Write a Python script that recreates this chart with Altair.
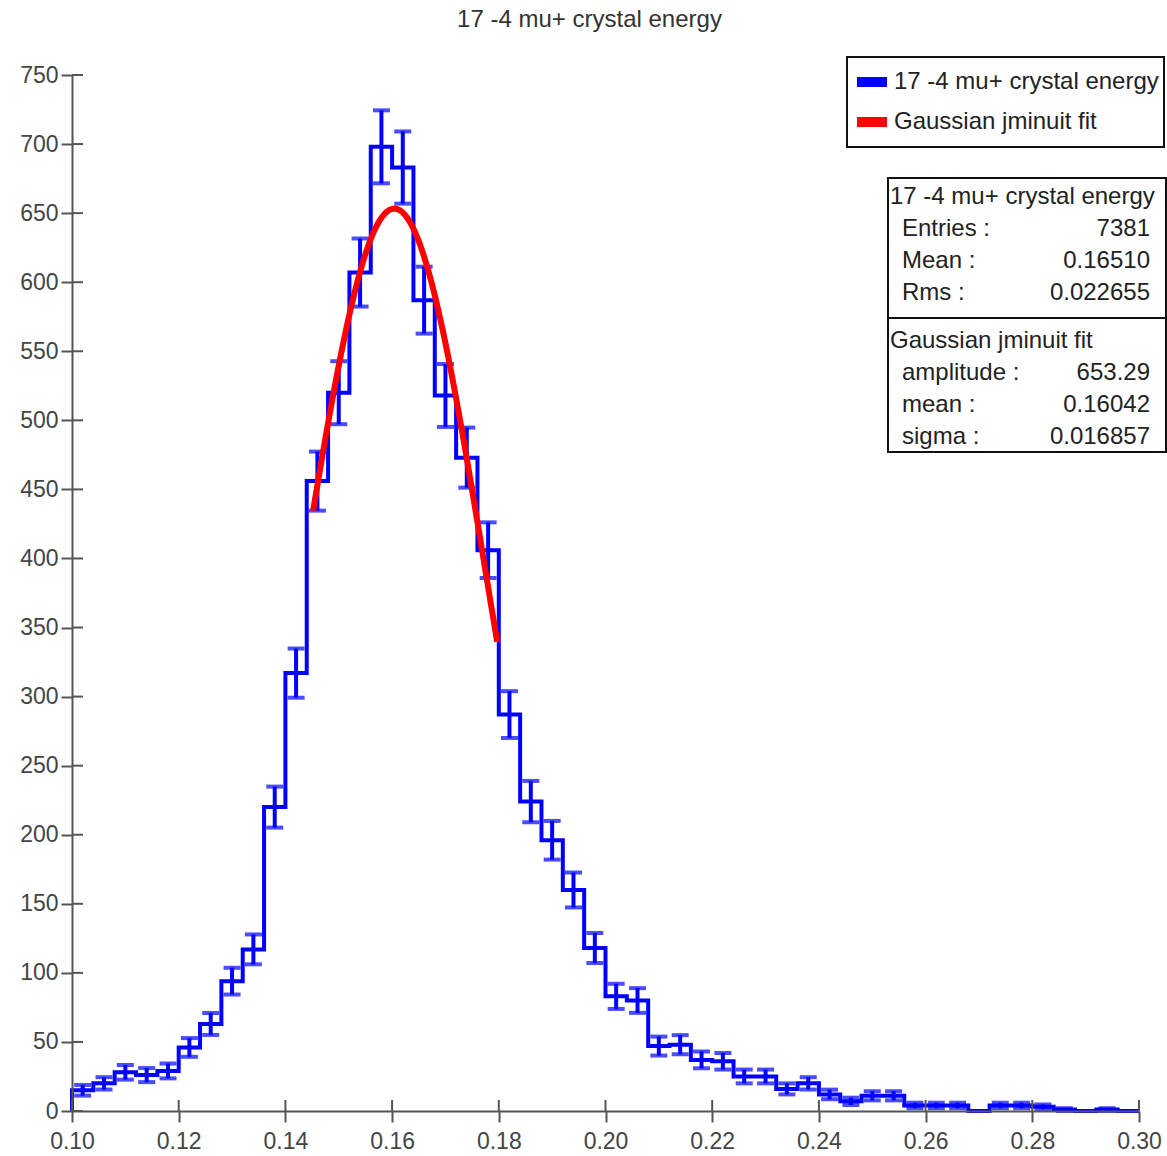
import altair as alt
import numpy as np
import pandas as pd

# ---------------- data ----------------
TITLE = "17 -4 mu+ crystal energy"
FIT_NAME = "Gaussian jminuit fit"

bin_lo = 0.10
bin_width = 0.004
counts = [15, 20, 28, 26, 29, 46, 63, 94, 117, 220,
          317, 456, 520, 607, 698, 683, 587, 518, 473, 406,
          287, 224, 196, 160, 118, 83, 80, 47, 48, 37,
          36, 25, 25, 16, 20, 12, 7, 11, 11, 4,
          4, 4, 0, 4, 4, 3, 1, 0, 1, 0]

fit_amplitude = 653.29
fit_mean = 0.16042
fit_sigma = 0.016857
fit_range = [0.1452, 0.1797]

x_ticks = [0.10, 0.12, 0.14, 0.16, 0.18, 0.20, 0.22, 0.24, 0.26, 0.28, 0.30]
y_ticks = [0, 50, 100, 150, 200, 250, 300, 350, 400, 450, 500, 550, 600, 650, 700, 750]

stat_header = [TITLE, FIT_NAME]
stat_labels = ["Entries :", "Mean :", "Rms :", "amplitude :", "mean :", "sigma :"]
stat_values = ["7381", "0.16510", "0.022655", "653.29", "0.16042", "0.016857"]

# ---------------- tables ----------------
n = len(counts)
edges = [bin_lo + i * bin_width for i in range(n + 1)]
step_x = [edges[0]] + edges[:n] + [edges[n]]
step_y = [0] + counts + [0]
df_step = pd.DataFrame({"x": step_x, "y": step_y, "series": TITLE})

df_bins = pd.DataFrame({
    "c": [edges[i] + bin_width / 2 for i in range(n)],
    "n": counts,
})
df_bins = df_bins[df_bins["n"] > 0]

fx = np.linspace(fit_range[0], fit_range[1], 150)
fy = fit_amplitude * np.exp(-0.5 * ((fx - fit_mean) / fit_sigma) ** 2)
df_fit = pd.DataFrame({"x": fx, "y": fy, "series": FIT_NAME})

FONT = "Liberation Sans"
TFS = 24
W, H = 1067, 1036
AX = "#555555"

xscale = alt.Scale(domain=[0.10, 0.30], nice=False, zero=False)
yscale = alt.Scale(domain=[0, 750], nice=False)
color = alt.Color(
    "series:N",
    scale=alt.Scale(domain=[TITLE, FIT_NAME], range=["#0000ff", "#ff0000"]),
    legend=alt.Legend(
        title=None, orient="none", legendX=775, legendY=-18,
        symbolType="stroke", symbolSize=900, symbolStrokeWidth=10,
        labelFontSize=TFS, labelFont=FONT, labelColor="#222222",
        labelLimit=500, padding=5, rowPadding=0, labelOffset=2,
        strokeColor="#111111", fillColor="white",
    ),
)

x_enc = alt.X("x:Q", scale=xscale,
              axis=alt.Axis(values=x_ticks, format=".2f", title=None, grid=False,
                            tickSize=11, tickWidth=2, tickColor=AX, domainColor=AX,
                            domainWidth=2, labelFontSize=23, labelFont=FONT,
                            labelColor="#444444", labelPadding=8, zindex=1,
                            labelFlush=False))
y_enc = alt.Y("y:Q", scale=yscale,
              axis=alt.Axis(values=y_ticks, title=None, grid=False,
                            tickSize=11, tickWidth=2, tickColor=AX, domainColor=AX,
                            domainWidth=2, labelFontSize=23, labelFont=FONT,
                            labelColor="#444444", labelPadding=3, zindex=1,
                            labelFlush=False))

step = alt.Chart(df_step).mark_line(interpolate="step-after", strokeWidth=4).encode(
    x=x_enc, y=y_enc, color=color)

err_base = alt.Chart(df_bins).transform_calculate(
    lo="max(0, datum.n - sqrt(datum.n))", hi="datum.n + sqrt(datum.n)")
err = err_base.mark_rule(color="#0000ff", strokeWidth=4).encode(
    x=alt.X("c:Q", scale=xscale), y=alt.Y("lo:Q", scale=yscale), y2="hi:Q")
cap_hi = err_base.mark_tick(color="#0000ff", orient="horizontal", size=17, thickness=4).encode(
    x=alt.X("c:Q", scale=xscale), y=alt.Y("hi:Q", scale=yscale))
cap_lo = err_base.mark_tick(color="#0000ff", orient="horizontal", size=17, thickness=4).encode(
    x=alt.X("c:Q", scale=xscale), y=alt.Y("lo:Q", scale=yscale))

fit = alt.Chart(df_fit).mark_line(strokeWidth=6, strokeCap="butt").encode(
    x=alt.X("x:Q", scale=xscale), y=alt.Y("y:Q", scale=yscale), color=color)

# inward halves of crossing tick marks
in_x = alt.Chart(pd.DataFrame({"t": x_ticks})).mark_rule(color=AX, strokeWidth=2).encode(
    x=alt.X("t:Q", scale=xscale), y=alt.value(H), y2=alt.value(H - 11))
in_y = alt.Chart(pd.DataFrame({"t": y_ticks})).mark_rule(color=AX, strokeWidth=2).encode(
    y=alt.Y("t:Q", scale=yscale), x=alt.value(0), x2=alt.value(11))

# statistics box
BX0, BX1, BY0, BY1, BDIV = 816, 1094, 103, 377, 243
box = alt.Chart(pd.DataFrame({"k": [0]})).mark_rect(
    fill="white", stroke="#111111", strokeWidth=2).encode(
    x=alt.value(BX0), x2=alt.value(BX1), y=alt.value(BY0), y2=alt.value(BY1))
div = alt.Chart(pd.DataFrame({"k": [0]})).mark_rule(color="#111111", strokeWidth=2).encode(
    x=alt.value(BX0), x2=alt.value(BX1), y=alt.value(BDIV))

df_head = pd.DataFrame({"t": stat_header, "row": [0, 4]})
df_stat = pd.DataFrame({"t": stat_labels, "v": stat_values, "row": [1, 2, 3, 5, 6, 7]})

def row_y(base):
    return base.transform_calculate(
        py=f"{BY0 + 19} + datum.row * 32 + (datum.row >= 4 ? 16 : 0)")

head = row_y(alt.Chart(df_head)).mark_text(
    align="left", baseline="middle", fontSize=TFS, font=FONT, color="#222222").encode(
    x=alt.value(BX0 + 2), y=alt.Y("py:Q", scale=None), text="t:N")
lab = row_y(alt.Chart(df_stat)).mark_text(
    align="left", baseline="middle", fontSize=TFS, font=FONT, color="#222222").encode(
    x=alt.value(BX0 + 14), y=alt.Y("py:Q", scale=None), text="t:N")
val = row_y(alt.Chart(df_stat)).mark_text(
    align="right", baseline="middle", fontSize=TFS, font=FONT, color="#222222").encode(
    x=alt.value(BX1 - 16), y=alt.Y("py:Q", scale=None), text="v:N")

chart = alt.layer(
    step, err, cap_hi, cap_lo, fit, in_x, in_y, box, div, head, lab, val
).properties(
    width=W, height=H,
    title=alt.TitleParams(TITLE, fontSize=TFS, font=FONT, color="#333333",
                          fontWeight="normal", anchor="middle", frame="group",
                          offset=24, dx=-16),
    autosize=alt.AutoSizeParams(type="none"),
    padding={"left": 72, "top": 75, "right": 28, "bottom": 45},
).configure_view(strokeWidth=0).configure_legend(strokeWidth=2)

chart.save("out.html", embed_options={"renderer": "svg", "actions": False})
